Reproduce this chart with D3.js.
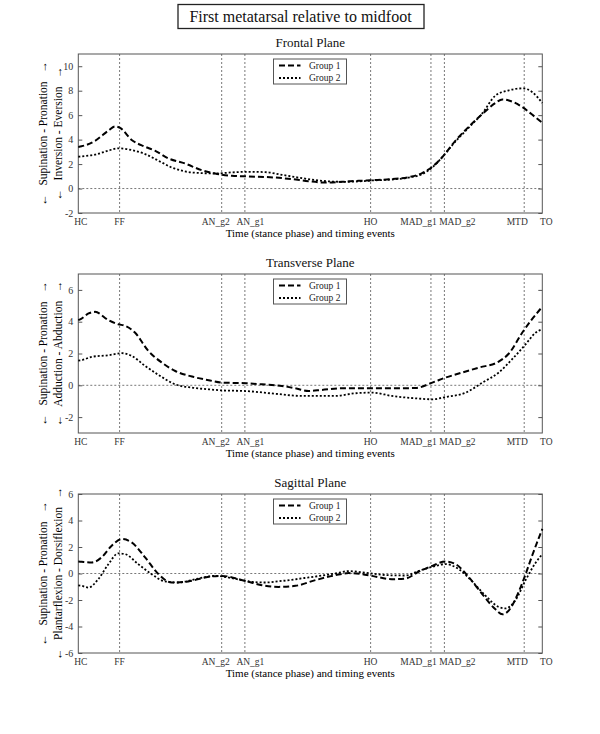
<!DOCTYPE html>
<html><head><meta charset="utf-8">
<script src="https://cdn.jsdelivr.net/npm/d3@7"></script>
<style>
body{margin:0;background:#fff}
text{font-family:"Liberation Serif","Times New Roman",serif}
</style></head>
<body><svg id="c" width="600" height="734"></svg>
<script>
// ---------- data ----------
const chartTitle = "First metatarsal relative to midfoot";
const panelTitles = ["Frontal Plane", "Transverse Plane", "Sagittal Plane"];
const yLabel1 = ["Supination - Pronation", "Supination - Pronation", "Supination - Pronation"];
const yLabel2 = ["Inversion - Eversion", "Adduction - Abduction", "Plantarflexion - Dorsiflexion"];
const xLabel = "Time (stance phase) and timing events";
const seriesNames = ["Group 1", "Group 2"];
const eventNames = ["HC","FF","AN_g2","AN_g1","HO","MAD_g1","MAD_g2","MTD","TO"];
const eventTimes = [0, 8.9, 30.9, 35.9, 63.0, 76.0, 78.9, 96.1, 100];
const yDomains = [[-2, 11], [-3, 7], [-6, 6]];
const yTicks = [[-2,0,2,4,6,8,10], [-2,0,2,4,6], [-6,-4,-2,0,2,4,6]];

// Frontal plane
const frontalX1 = [0,0.7,3.6,6.5,7.9,9,11.5,14.4,16.5,19.4,23,26.6,29.5,33.1,36.7,42.4,46,49.6,53.2,56.8,60.4,63.3,67.6,71.2,74.1,76.3,78.4,81.3,84.2,87.1,89.9,91.4,92.8,95.7,97.8,100];
const frontalG1 = [3.4,3.45,3.9,4.74,5.07,4.96,3.97,3.42,3.1,2.47,2.05,1.5,1.23,1.04,0.99,0.9,0.77,0.6,0.49,0.55,0.63,0.68,0.77,0.93,1.26,1.78,2.55,3.92,5.07,6.1,7.0,7.29,7.2,6.66,6.05,5.37];
const frontalX2 = [0,0.7,3.6,6.5,8.6,11.5,14.4,17.3,20.1,23,26.6,29.5,33.1,36.7,40.3,43.9,48.2,52.5,56.8,61.2,63.3,67.6,71.2,74.1,76.3,78.4,81.3,84.2,87.1,89.9,92.8,95.7,97.8,100];
const frontalG2 = [2.6,2.63,2.77,3.1,3.29,3.15,2.82,2.27,1.73,1.4,1.26,1.23,1.32,1.37,1.34,1.12,0.85,0.63,0.55,0.6,0.66,0.74,0.9,1.18,1.73,2.55,3.86,5.0,6.16,7.6,8.03,8.19,7.9,6.99];

// Transverse plane
const transX1 = [0,0.7,2.2,3.6,6.5,8.6,10.1,12.2,15.1,18,20.9,24.5,28.1,30.9,36,39.6,43.9,46.8,49.6,52.5,56.8,63.3,67.6,72.7,76.3,79.1,82.7,86.3,90.6,92.8,95.7,97.8,100];
const transG1 = [4.1,4.2,4.52,4.62,4.1,3.84,3.74,3.32,2.16,1.43,0.9,0.55,0.32,0.17,0.13,0.06,-0.04,-0.19,-0.36,-0.29,-0.19,-0.19,-0.19,-0.17,0.17,0.48,0.8,1.11,1.49,2.0,3.32,4.16,4.94];
const transX2 = [0,0.7,2.9,6.5,9.4,11.5,14.4,17.3,20.9,24.5,28.1,30.9,36,42.4,48.2,55.4,59.7,63.3,67.6,72.7,76.3,79.1,83.5,87.1,90.6,93.5,96.4,98.6,100];
const transG2 = [1.55,1.58,1.79,1.89,2.02,1.85,1.22,0.65,0.06,-0.15,-0.25,-0.32,-0.36,-0.53,-0.67,-0.67,-0.5,-0.46,-0.67,-0.82,-0.88,-0.74,-0.46,0.17,0.8,1.64,2.58,3.32,3.53];

// Sagittal plane
const sagX1 = [0,0.7,2.9,5,7.2,9.4,11.5,14.4,17.3,20.1,23.7,28.1,30.9,36,39.6,43.2,46.8,51.1,55.4,58.3,61.2,63.3,67.6,70.5,73.4,76.3,79.1,81.3,84.2,87.1,89.9,91.4,92.8,95,96.4,97.8,99.3,100];
const sagG1 = [0.9,0.88,0.83,1.21,2.1,2.6,2.35,1.21,-0.05,-0.68,-0.6,-0.25,-0.18,-0.56,-0.88,-1.01,-0.93,-0.5,-0.13,0.03,-0.05,-0.18,-0.43,-0.38,0.15,0.58,0.91,0.71,-0.3,-1.57,-2.7,-3.08,-2.78,-1.31,-0.05,1.34,2.73,3.36];
const sagX2 = [0,0.7,2.2,4.3,6.5,8.6,10.1,12.9,15.8,18.7,21.6,25.2,29.5,33.1,36.7,40.3,43.9,49.6,55.4,58.3,61.9,66.9,70.5,73.4,76.3,79.1,82,84.9,87.8,90.6,92.1,94.2,96.4,98.6,100];
const sagG2 = [-0.9,-0.93,-1.06,-0.43,0.71,1.52,1.46,0.71,-0.05,-0.6,-0.68,-0.43,-0.18,-0.35,-0.6,-0.68,-0.56,-0.3,0.0,0.18,0.05,-0.13,-0.15,0.2,0.5,0.71,0.33,-0.6,-1.69,-2.52,-2.63,-2.02,-0.5,0.83,1.46];

const panelX = [[frontalX1, frontalX2], [transX1, transX2], [sagX1, sagX2]];
const panelY = [[frontalG1, frontalG2], [transG1, transG2], [sagG1, sagG2]];

// ---------- style / layout ----------
const L = 78.3, R = 542.3, PH = 159;
const panelTops = [54, 274, 494];
const dashStyles = ["6,3", "2,2"];
const labelNudge = [2.5, 0, -6, 5.5, 0, -12.5, 13, -7, 4];

const svg = d3.select("#c");
const x = d3.scaleLinear().domain([0, 100]).range([L, R]);

// main title
svg.append("text").attr("x", 300.5).attr("y", 22).attr("text-anchor", "middle")
  .attr("font-size", 16).attr("fill", "#111").text(chartTitle);
svg.append("rect").attr("x", 178).attr("y", 4.5).attr("width", 246).attr("height", 24)
  .attr("fill", "none").attr("stroke", "#222").attr("stroke-width", 1.3);

panelTops.forEach((top, p) => {
  const y = d3.scaleLinear().domain(yDomains[p]).range([top + PH, top]);
  const g = svg.append("g");

  // panel title
  g.append("text").attr("x", (L + R) / 2).attr("y", top - 7).attr("text-anchor", "middle")
    .attr("font-size", 13).attr("fill", "#111").text(panelTitles[p]);

  // event lines
  g.selectAll("line.ev").data(eventTimes.slice(1, -1)).join("line")
    .attr("x1", d => x(d)).attr("x2", d => x(d)).attr("y1", top).attr("y2", top + PH)
    .attr("stroke", "#555").attr("stroke-width", 0.8).attr("stroke-dasharray", "2,2");
  // zero line
  g.append("line").attr("x1", L).attr("x2", R).attr("y1", y(0)).attr("y2", y(0))
    .attr("stroke", "#555").attr("stroke-width", 0.8).attr("stroke-dasharray", "2,2");

  // y axes (ticks inward)
  const ay = g.append("g").attr("transform", `translate(${L},0)`)
    .call(d3.axisLeft(y).tickValues(yTicks[p]).tickFormat(d => String(d))
      .tickSizeInner(-4).tickSizeOuter(0).tickPadding(5));
  ay.select(".domain").remove();
  ay.selectAll("line").attr("stroke", "#555");
  ay.selectAll("text").attr("font-size", 10).attr("fill", "#333")
    .attr("font-family", "Liberation Serif, serif");
  const ay2 = g.append("g").attr("transform", `translate(${R},0)`)
    .call(d3.axisRight(y).tickValues(yTicks[p]).tickSizeInner(-4).tickSizeOuter(0).tickFormat(""));
  ay2.select(".domain").remove();
  ay2.selectAll("line").attr("stroke", "#555");

  // frame
  g.append("rect").attr("x", L).attr("y", top).attr("width", R - L).attr("height", PH)
    .attr("fill", "none").attr("stroke", "#555").attr("stroke-width", 1);

  // x event labels
  g.selectAll("text.ev").data(eventNames).join("text")
    .attr("x", (d, i) => x(eventTimes[i]) + labelNudge[i]).attr("y", top + PH + 12)
    .attr("text-anchor", "middle").attr("font-size", 9.5).attr("fill", "#333").text(d => d);

  // x label
  g.append("text").attr("x", (L + R) / 2).attr("y", top + PH + 24).attr("text-anchor", "middle")
    .attr("font-size", 11).attr("fill", "#000").text(xLabel);

  // y labels (rotated)
  const cy = top + PH / 2;
  [[yLabel1[p], 47], [yLabel2[p], 62]].forEach(([t, xx]) => {
    g.append("text").attr("transform", `translate(${xx},${cy}) rotate(-90)`)
      .attr("text-anchor", "middle").attr("font-size", 11.5).attr("fill", "#000")
      .style("white-space", "pre").text("\u2190   " + t + "   \u2192");
  });

  // curves
  const line = d3.line().x(d => x(d[0])).y(d => y(d[1])).curve(d3.curveMonotoneX);
  [0, 1].forEach(s => {
    const pts = panelX[p][s].map((v, i) => [v, panelY[p][s][i]]);
    g.append("path").attr("d", line(pts)).attr("fill", "none").attr("stroke", "#000")
      .attr("stroke-width", s === 0 ? 2 : 1.8).attr("stroke-dasharray", dashStyles[s]);
  });

  // legend
  const lx = 273.5, ly = top + 5;
  g.append("rect").attr("x", lx).attr("y", ly).attr("width", 73).attr("height", 25)
    .attr("fill", "#fff").attr("stroke", "#555").attr("stroke-width", 1);
  seriesNames.forEach((n, s) => {
    const ry = ly + 6.5 + s * 12.5;
    g.append("line").attr("x1", lx + 5.5).attr("x2", lx + 27).attr("y1", ry).attr("y2", ry)
      .attr("stroke", "#000").attr("stroke-width", s === 0 ? 2 : 1.8).attr("stroke-dasharray", dashStyles[s]);
    g.append("text").attr("x", lx + 35.5).attr("y", ry + 3.2).attr("font-size", 9.5)
      .attr("fill", "#222").text(n);
  });
});
</script></body></html>
